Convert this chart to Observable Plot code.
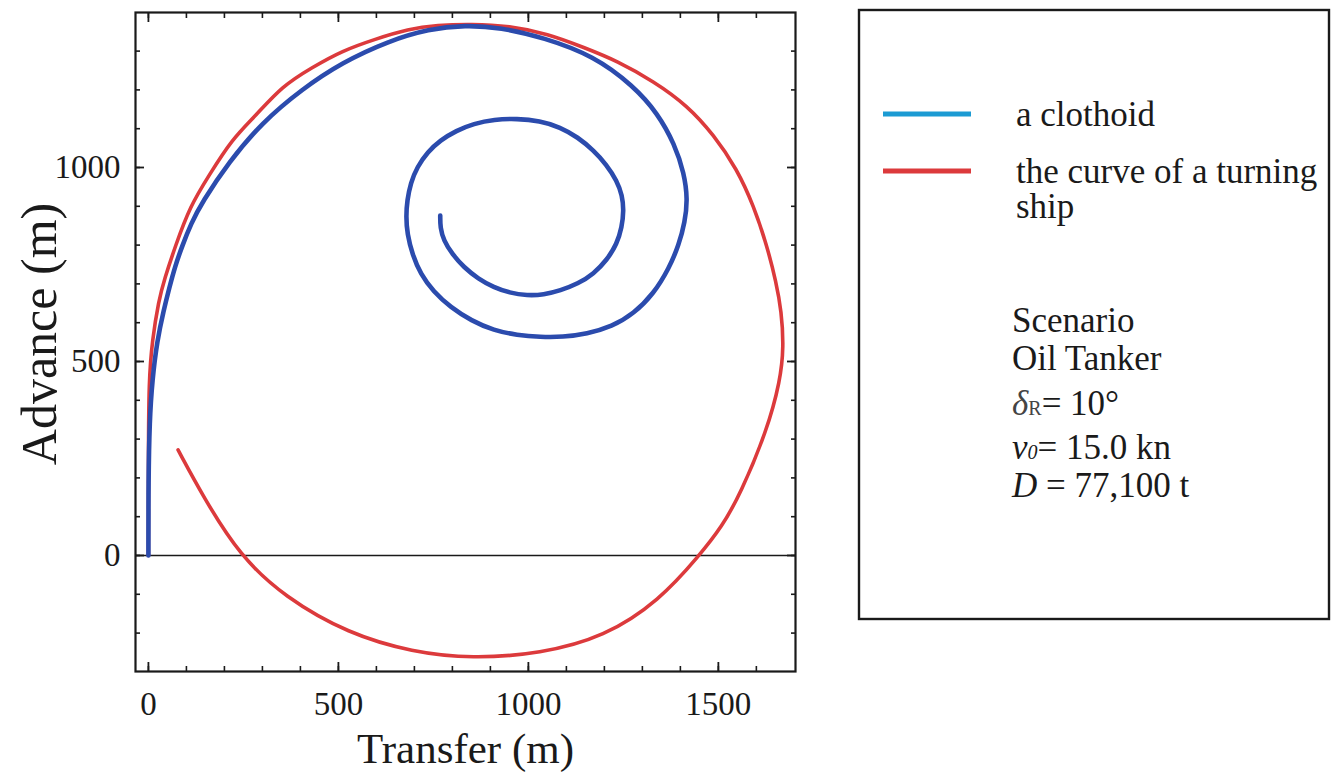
<!DOCTYPE html>
<html>
<head>
<meta charset="utf-8">
<script src="https://cdn.jsdelivr.net/npm/d3@7"></script>
<script src="https://cdn.jsdelivr.net/npm/@observablehq/plot@0.6"></script>
<style>
  body { margin: 0; background: #fff; }
  #wrap { position: relative; width: 1333px; height: 780px; font-family: "Liberation Serif", "Times New Roman", serif; }
  #wrap > svg.overlay { position: absolute; left: 0; top: 0; }
</style>
</head>
<body>
<div id="wrap"></div>
<script>
// ---- data ----
const clothoidX = [0, 0, 3, 10, 23, 40, 55, 70, 89, 112, 141, 211, 299, 404, 510, 632, 738, 834, 926, 1040, 1172, 1277, 1340, 1385, 1410, 1419, 1412, 1396, 1370, 1330, 1277, 1220, 1154, 1090, 1032, 970, 909, 850, 795, 750, 716, 695, 681, 678, 681, 690, 707, 735, 768, 810, 856, 910, 970, 1030, 1084, 1130, 1172, 1205, 1233, 1247, 1251, 1246, 1233, 1207, 1172, 1130, 1084, 1040, 997, 950, 909, 868, 830, 800, 777, 768, 768];
const clothoidY = [0, 193, 348, 451, 554, 631, 690, 745, 798, 855, 910, 1013, 1116, 1202, 1271, 1326, 1357, 1367, 1361, 1335, 1288, 1210, 1140, 1060, 985, 918, 860, 800, 740, 675, 623, 590, 571, 563, 563, 568, 580, 605, 640, 680, 726, 775, 829, 875, 915, 960, 1001, 1040, 1070, 1095, 1113, 1124, 1126, 1120, 1104, 1078, 1044, 1008, 966, 928, 889, 846, 803, 762, 726, 700, 683, 672, 670, 677, 691, 713, 743, 776, 812, 845, 876];

const turningX = [0, 0, 1, 10, 27, 42, 71, 110, 159, 220, 282, 352, 431, 510, 597, 684, 760, 850, 950, 1050, 1150, 1233, 1330, 1418, 1488, 1549, 1593, 1628, 1652, 1666, 1672, 1663, 1628, 1558, 1510, 1450, 1345, 1200, 1032, 852, 695, 527, 358, 240, 145, 78];
const turningY = [0, 250, 451, 554, 657, 712, 798, 901, 979, 1073, 1133, 1210, 1258, 1301, 1331, 1357, 1367, 1370, 1365, 1345, 1308, 1275, 1222, 1160, 1084, 996, 901, 798, 705, 630, 537, 451, 322, 159, 75, 0, -116, -210, -253, -266, -249, -202, -107, 0, 150, 272];

const xMajorTicks = [0, 500, 1000, 1500];
const xMinorTicks = [0, 100, 200, 300, 400, 500, 600, 700, 800, 900, 1000, 1100, 1200, 1300, 1400, 1500, 1600];
const yMajorTicks = [0, 500, 1000];
const yMinorTicks = [-200, -100, 0, 100, 200, 300, 400, 500, 600, 700, 800, 900, 1000, 1100, 1200, 1300];

const xTitle = "Transfer (m)";
const yTitle = "Advance (m)";
const seriesNames = ["a clothoid", "the curve of a turning ship"];
const seriesLabelLines = [["a clothoid"], ["the curve of a turning", "ship"]];
const legendColors = ["#1c9bd3", "#dc3a3c"];
const lineColors = ["#2b4bad", "#dc3a3c"];

// ---- build tables ----
const clothoid = clothoidX.map((x, i) => ({x, y: clothoidY[i], series: seriesNames[0]}));
const turning = turningX.map((x, i) => ({x, y: turningY[i], series: seriesNames[1]}));

const ink = "#1a1a1a";
const fmt = d => String(d);
const chart = Plot.plot({
  width: 800,
  height: 780,
  marginLeft: 135,
  marginRight: 5,
  marginTop: 12,
  marginBottom: 109,
  style: {fontFamily: "'Liberation Serif', 'Times New Roman', serif", background: "transparent", color: ink, overflow: "visible"},
  x: {domain: [-34, 1703]},
  y: {domain: [-299, 1399.5]},
  marks: [
    Plot.ruleY([0], {stroke: ink, strokeWidth: 1.6}),
    Plot.line(turning, {x: "x", y: "y", stroke: lineColors[1], strokeWidth: 3.6, curve: "basis"}),
    Plot.line(clothoid, {x: "x", y: "y", stroke: lineColors[0], strokeWidth: 4.6, curve: "basis"}),
    Plot.frame({stroke: ink, strokeWidth: 2.2}),
    // inward minor ticks on all four sides
    Plot.axisX(xMinorTicks, {anchor: "bottom", tickSize: 5, dy: -5, text: null, label: null, stroke: ink, strokeWidth: 1.6}),
    Plot.axisX(xMinorTicks, {anchor: "top", tickSize: 5, dy: 5, text: null, label: null, stroke: ink, strokeWidth: 1.6}),
    Plot.axisY(yMinorTicks, {anchor: "left", tickSize: 5, dx: 5, text: null, label: null, stroke: ink, strokeWidth: 1.6}),
    Plot.axisY(yMinorTicks, {anchor: "right", tickSize: 5, dx: -5, text: null, label: null, stroke: ink, strokeWidth: 1.6}),
    // inward major ticks
    Plot.axisX(xMajorTicks, {anchor: "bottom", tickSize: 9, dy: -9, text: null, label: null, stroke: ink, strokeWidth: 1.8}),
    Plot.axisX(xMajorTicks, {anchor: "top", tickSize: 9, dy: 9, text: null, label: null, stroke: ink, strokeWidth: 1.8}),
    Plot.axisY(yMajorTicks, {anchor: "left", tickSize: 9, dx: 9, text: null, label: null, stroke: ink, strokeWidth: 1.8}),
    Plot.axisY(yMajorTicks, {anchor: "right", tickSize: 9, dx: -9, text: null, label: null, stroke: ink, strokeWidth: 1.8}),
    // tick labels
    Plot.axisX(xMajorTicks, {anchor: "bottom", tickSize: 0, tickPadding: 20, fontSize: 33, label: null, fill: ink, tickFormat: fmt}),
    Plot.axisY(yMajorTicks, {anchor: "left", tickSize: 0, tickPadding: 15, fontSize: 33, label: null, fill: ink, tickFormat: fmt}),
    // axis titles
    Plot.text([xTitle], {frameAnchor: "bottom", textAnchor: "middle", lineAnchor: "bottom", dy: 91, fontSize: 43, fill: ink}),
    Plot.text([yTitle], {frameAnchor: "left", textAnchor: "middle", lineAnchor: "middle", rotate: -90, dx: -96, dy: -8, fontSize: 50, fill: ink})
  ]
});

const wrap = document.getElementById("wrap");
wrap.appendChild(chart);

// ---- legend / annotation panel ----
const svg = d3.select(wrap).append("svg")
  .attr("class", "overlay")
  .attr("width", 1333).attr("height", 780)
  .style("font-family", "'Liberation Serif', 'Times New Roman', serif")
  .style("fill", ink);

svg.append("rect")
  .attr("x", 859).attr("y", 10).attr("width", 470).attr("height", 609)
  .attr("fill", "none").attr("stroke", ink).attr("stroke-width", 2.4);

const itemY = [114, 171];
seriesNames.forEach((name, i) => {
  svg.append("line")
    .attr("x1", 883).attr("x2", 971).attr("y1", itemY[i]).attr("y2", itemY[i])
    .attr("stroke", legendColors[i]).attr("stroke-width", 5);
  seriesLabelLines[i].forEach((t, j) => {
    svg.append("text")
      .attr("x", 1016).attr("y", itemY[i] + 11.5 + j * 35.5)
      .attr("font-size", 35).attr("fill", ink).text(t);
  });
});

const sx = 1012;
const addLine = (y, parts) => {
  const t = svg.append("text").attr("x", sx).attr("y", y).attr("font-size", 35).attr("fill", ink);
  parts.forEach(p => {
    const ts = t.append("tspan").text(p.t);
    if (p.italic) ts.attr("font-style", "italic");
    if (p.size) ts.attr("font-size", p.size);
    if (p.fill) ts.attr("fill", p.fill);
  });
};
addLine(332, [{t: "Scenario"}]);
addLine(370, [{t: "Oil Tanker"}]);
addLine(415, [{t: "δ", italic: true, fill: "#444"}, {t: "R", size: 20, fill: "#444"}, {t: "= 10°"}]);
addLine(459, [{t: "v", italic: true}, {t: "0", italic: true, size: 20}, {t: "= 15.0 kn"}]);
addLine(497, [{t: "D", italic: true}, {t: " = 77,100 t"}]);
</script>
</body>
</html>
